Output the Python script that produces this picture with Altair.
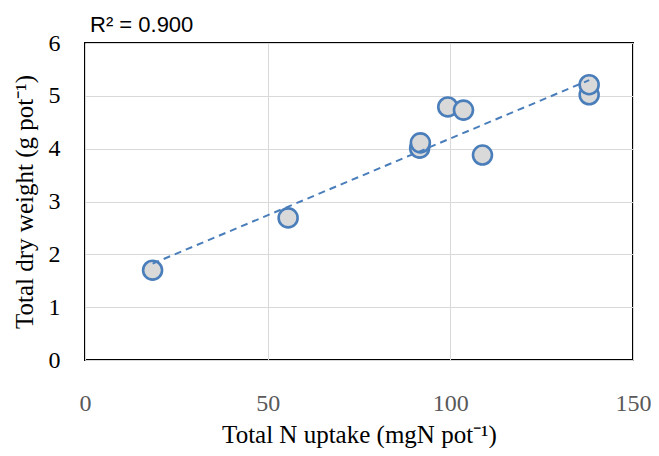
import altair as alt
import pandas as pd

# Data
n_uptake = [18.5, 55.6, 91.6, 91.8, 99.3, 103.6, 108.8, 138.0, 138.0]
dry_weight = [1.70, 2.69, 4.01, 4.11, 4.79, 4.73, 3.88, 5.02, 5.21]
x_ticks = [0, 50, 100, 150]
y_ticks = [0, 1, 2, 3, 4, 5, 6]
r2_label = "R\u00b2 = 0.900"

df = pd.DataFrame({"x": n_uptake, "y": dry_weight})

BLUE = "#4a7ebb"
SERIF = "Liberation Serif"

x_enc = alt.X(
    "x:Q",
    scale=alt.Scale(domain=[0, 150], nice=False),
    axis=alt.Axis(
        values=x_ticks,
        title="Total N uptake (mgN pot\u207b\u00b9)",
        grid=True,
        gridColor="#d9d9d9",
        ticks=False,
        domain=False,
        labelFlush=False,
        labelColor="#595959",
        labelFont=SERIF,
        labelFontSize=24,
        labelPadding=31,
        titleFont=SERIF,
        titleFontSize=25,
        titleFontWeight="normal",
        titleColor="black",
        titlePadding=7,
    ),
)
y_enc = alt.Y(
    "y:Q",
    scale=alt.Scale(domain=[0, 6], nice=False),
    axis=alt.Axis(
        values=y_ticks,
        title="Total dry weight (g pot\u207b\u00b9)",
        grid=True,
        gridColor="#d9d9d9",
        ticks=False,
        domain=False,
        labelFlush=False,
        labelColor="black",
        labelFont=SERIF,
        labelFontSize=24,
        labelPadding=25,
        titleFont=SERIF,
        titleFontSize=25,
        titleFontWeight="normal",
        titleColor="black",
        titlePadding=11,
    ),
)

base = alt.Chart(df)

points = base.mark_circle(
    size=360, fill="#d9d9d9", stroke=BLUE, strokeWidth=2.6, opacity=1
).encode(x=x_enc, y=y_enc)

trend = base.transform_regression("x", "y").mark_line(
    color=BLUE, strokeWidth=2, strokeDash=[7, 5]
).encode(x="x:Q", y="y:Q")

chart = (
    alt.layer(points, trend)
    .properties(
        width=548,
        height=317,
        autosize=alt.AutoSizeParams(type="none"),
        padding={"left": 77, "top": 35, "right": 18, "bottom": 88},
        title=alt.TitleParams(
            text=r2_label,
            anchor="start",
            frame="group",
            font="Liberation Sans",
            fontSize=22,
            fontWeight="normal",
            color="black",
            dx=5,
            dy=16,
            offset=10,
        ),
    )
    .configure_view(stroke="black", strokeWidth=2)
)

chart.save("out.html", embed_options={"renderer": "svg", "actions": False})
